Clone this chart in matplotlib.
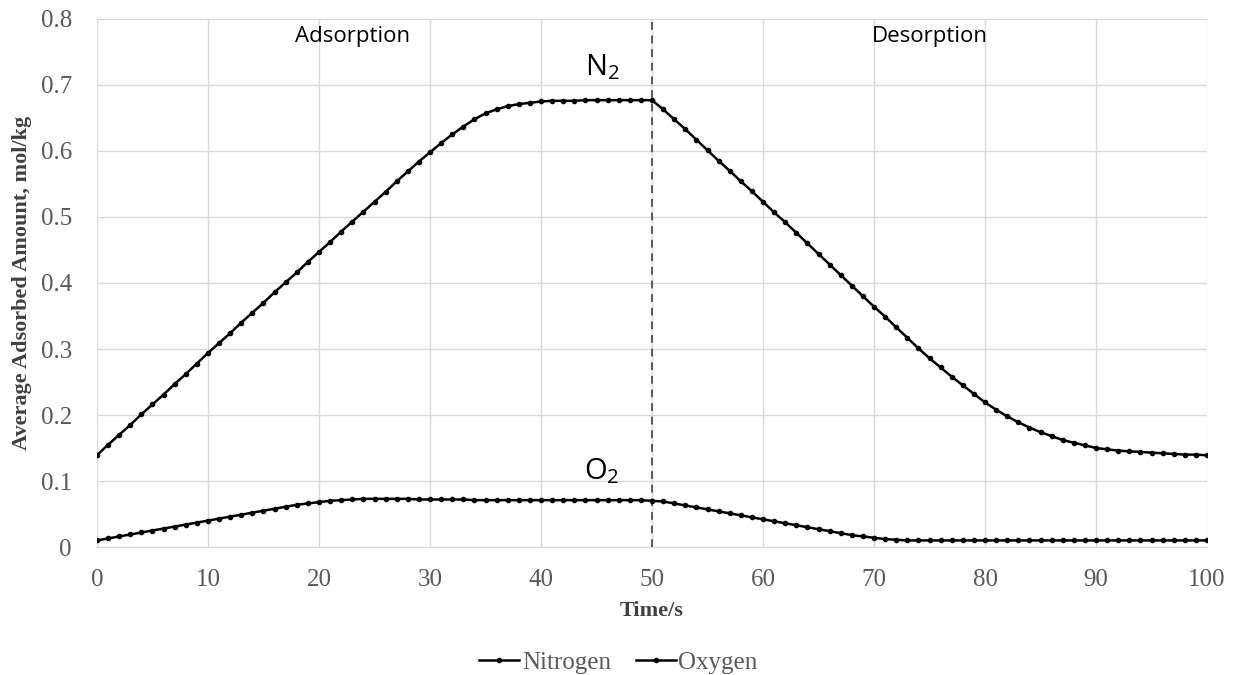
import numpy as np
import matplotlib.pyplot as plt

# time axis, one sample per second
time_s = list(range(0, 101))

# average adsorbed amount of nitrogen, mol/kg
nitrogen = [0.139, 0.155, 0.170, 0.185, 0.201, 0.216, 0.231, 0.247, 0.262, 0.278,
            0.294, 0.309, 0.324, 0.340, 0.355, 0.370, 0.386, 0.401, 0.416, 0.432,
            0.447, 0.462, 0.478, 0.493, 0.508, 0.523, 0.538, 0.554, 0.569, 0.584,
            0.598, 0.612, 0.625, 0.637, 0.648, 0.657, 0.663, 0.668, 0.671, 0.673,
            0.675, 0.676, 0.676, 0.676, 0.677, 0.677, 0.677, 0.677, 0.677, 0.677,
            0.677, 0.663, 0.648, 0.633, 0.617, 0.601, 0.585, 0.570, 0.554, 0.539,
            0.523, 0.507, 0.492, 0.476, 0.460, 0.444, 0.428, 0.412, 0.396, 0.380,
            0.364, 0.349, 0.333, 0.317, 0.301, 0.286, 0.272, 0.258, 0.245, 0.232,
            0.219, 0.208, 0.198, 0.189, 0.181, 0.174, 0.168, 0.162, 0.158, 0.154,
            0.150, 0.148, 0.146, 0.145, 0.144, 0.143, 0.142, 0.141, 0.140, 0.140,
            0.139]

# average adsorbed amount of oxygen, mol/kg
oxygen = [0.010, 0.013, 0.016, 0.019, 0.022, 0.025, 0.028, 0.031, 0.034, 0.037,
          0.040, 0.043, 0.046, 0.049, 0.052, 0.055, 0.058, 0.061, 0.064, 0.066,
          0.068, 0.070, 0.071, 0.072, 0.073, 0.073, 0.073, 0.073, 0.073, 0.072,
          0.072, 0.072, 0.072, 0.072, 0.071, 0.071, 0.071, 0.071, 0.071, 0.071,
          0.071, 0.071, 0.071, 0.071, 0.071, 0.071, 0.071, 0.071, 0.071, 0.071,
          0.070, 0.069, 0.066, 0.063, 0.060, 0.057, 0.054, 0.051, 0.048, 0.045,
          0.042, 0.039, 0.036, 0.033, 0.030, 0.027, 0.024, 0.021, 0.018, 0.016,
          0.014, 0.012, 0.011, 0.010, 0.010, 0.010, 0.010, 0.010, 0.010, 0.010,
          0.010, 0.010, 0.010, 0.010, 0.010, 0.010, 0.010, 0.010, 0.010, 0.010,
          0.010, 0.010, 0.010, 0.010, 0.010, 0.010, 0.010, 0.010, 0.010, 0.010,
          0.010]

switch_time = 50
x_ticks = [0, 10, 20, 30, 40, 50, 60, 70, 80, 90, 100]
y_ticks = [0, 0.1, 0.2, 0.3, 0.4, 0.5, 0.6, 0.7, 0.8]
y_tick_labels = ["0", "0.1", "0.2", "0.3", "0.4", "0.5", "0.6", "0.7", "0.8"]

serif = ["Liberation Serif", "DejaVu Serif"]
sans = ["Open Sans", "DejaVu Sans"]
plt.rcParams["font.family"] = serif
plt.rcParams["xtick.labelsize"] = 18
plt.rcParams["ytick.labelsize"] = 18
plt.rcParams["mathtext.default"] = "regular"
grey = "#595959"
label_grey = "#404040"
grid_grey = "#d9d9d9"

fig = plt.figure(figsize=(12.37, 6.75), dpi=100)
ax = fig.add_axes([0.0784, 0.1896, 0.8974, 0.7823])

ax.plot(time_s, nitrogen, color="black", lw=1.8, marker="o", ms=3, label="Nitrogen", zorder=3)
ax.plot(time_s, oxygen, color="black", lw=1.8, marker="o", ms=3, label="Oxygen", zorder=3)

# adsorption / desorption switch
ax.axvline(switch_time, color=grey, lw=1.4, ls=(0, (4, 3)), zorder=2)

ax.set_xlim(0, 100)
ax.set_ylim(0, 0.8)
ax.set_xticks(x_ticks)
ax.set_yticks(y_ticks)
ax.set_yticklabels(y_tick_labels)
ax.grid(True, color=grid_grey, lw=1)
ax.set_axisbelow(True)
for s in ["top", "right", "left"]:
    ax.spines[s].set_visible(False)
ax.spines["bottom"].set_color(grid_grey)
ax.tick_params(length=0, labelcolor=grey)
ax.tick_params(axis="x", pad=16)
ax.tick_params(axis="y", pad=18)

ax.set_xlabel("Time/s", fontsize=16, fontweight="bold", color=label_grey, labelpad=7)
ax.set_ylabel("Average Adsorbed Amount, mol/kg", fontsize=16,
              fontweight="bold", color=label_grey, labelpad=6)

ax.text(23, 0.773, "Adsorption", family=sans, fontsize=16, ha="center", va="center")
ax.text(75, 0.773, "Desorption", family=sans, fontsize=16, ha="center", va="center")
ax.text(45.5, 0.727, "N$_2$", family=sans, fontsize=21, ha="center", va="center")
ax.text(45.5, 0.115, "O$_2$", family=sans, fontsize=21, ha="center", va="center")

fig.legend(loc="lower center", bbox_to_anchor=(0.5, -0.032), ncol=2, frameon=False,
           prop={"family": serif, "size": 18}, handlelength=1.6, handletextpad=0.1,
           columnspacing=1.0, labelcolor=grey)

fig.savefig("out.png", dpi=100)
